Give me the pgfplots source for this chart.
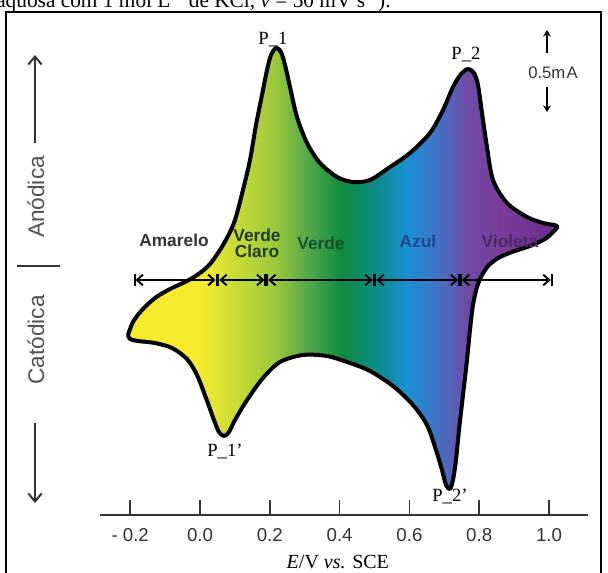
\documentclass[border=0pt]{standalone}
\usepackage{pgfplots}
\pgfplotsset{compat=1.18}
\usepackage{fontspec}
\setmainfont{Liberation Serif}
\setsansfont{Liberation Sans}
\usetikzlibrary{arrows.meta}

\definecolor{s0}{HTML}{F7EC2C}
\definecolor{s1}{HTML}{D6E033}
\definecolor{s2}{HTML}{9CC83C}
\definecolor{s3}{HTML}{4FA84A}
\definecolor{s4}{HTML}{0E8C3E}
\definecolor{s5}{HTML}{0C8C8A}
\definecolor{s6}{HTML}{1A90D5}
\definecolor{s7}{HTML}{4A6CC0}
\definecolor{s8}{HTML}{6E4CA8}
\definecolor{s9}{HTML}{7A3C98}
\definecolor{s10}{HTML}{6A2C8E}
\definecolor{ink}{HTML}{333333}

\pgfdeclarehorizontalshading{spectrum}{100bp}{color(0bp)=(s0); color(33bp)=(s0);
  color(36.3bp)=(s1); color(42.1bp)=(s2); color(46bp)=(s3); color(49.9bp)=(s4);
  color(53.8bp)=(s5); color(57.6bp)=(s6); color(61.6bp)=(s7); color(64.3bp)=(s8);
  color(68.4bp)=(s9); color(75bp)=(s10); color(100bp)=(s10)}

\tikzset{seg/.style={line width=1.4pt, black, >={Straight Barb[length=4.5pt,width=8pt]}, |<->|}}

\begin{document}
\begin{tikzpicture}
\useasboundingbox (0,0) rectangle (456pt,-429.75pt);
\clip (0,0) rectangle (456pt,-429.75pt);

\begin{axis}[
  at={(75pt,-386.25pt)}, anchor=south west,
  scale only axis, width=366pt, height=371.25pt,
  xmin=-0.2865, xmax=1.1117, ymin=-1.46875, ymax=1.625,
  clip=false,
  axis x line=bottom, axis y line=none,
  axis line style={-, line width=1.3pt, ink},
  xtick={-0.2,0,0.2,0.4,0.6,0.8,1.0},
  xticklabels={- 0.2, 0.0, 0.2, 0.4, 0.6, 0.8, 1.0},
  xtick align=inside,
  major tick length=11pt,
  major tick style={line width=1.3pt, ink},
  xticklabel style={font=\fontsize{14}{16}\sffamily, text=ink, anchor=base, yshift=-20pt},
  xlabel={\textit{E}/V \textit{vs.} SCE},
  xlabel style={font=\fontsize{15}{17}\selectfont, at={(axis cs:0.395,-1.46875)}, anchor=base, yshift=-40.5pt},
]
% voltammogram outline (E in V, I in mA)
\addplot[smooth, tension=0.5, line width=3pt, draw=black, line join=round,
         shade, shading=spectrum] coordinates {
(-0.2063,-0.3438) (-0.1920,-0.2625) (-0.1662,-0.1875) (-0.1289,-0.1125)
(-0.0860,-0.0563) (-0.0372,-0.0063) (0.0,0.0438) (0.0287,0.1)
(0.0573,0.1875) (0.0802,0.275) (0.1003,0.375) (0.1232,0.5625)
(0.1433,0.75) (0.1605,0.9688) (0.1777,1.1563) (0.1920,1.3125)
(0.2034,1.4063) (0.2178,1.45) (0.2321,1.425) (0.2436,1.3438)
(0.2579,1.2063) (0.2779,1.0188) (0.3066,0.8563) (0.3438,0.7313)
(0.3926,0.6438) (0.4384,0.6125) (0.4871,0.625) (0.5444,0.7063)
(0.6017,0.7938) (0.6590,0.9188) (0.6963,1.0625) (0.7249,1.2063)
(0.7479,1.2875) (0.7679,1.3188) (0.7851,1.2938) (0.7966,1.2188)
(0.8080,1.0438) (0.8223,0.8313) (0.8395,0.625) (0.8797,0.4813)
(0.9370,0.3938) (0.9828,0.3563) (1.0229,0.3375) (1.0115,0.3)
(0.9885,0.2563) (0.9456,0.2125) (0.9026,0.1813) (0.8596,0.1438)
(0.8281,0.0938) (0.8080,0.0313) (0.7937,-0.0438) (0.7822,-0.1563)
(0.7736,-0.3125) (0.7650,-0.5) (0.7536,-0.7188) (0.7421,-0.9375)
(0.7335,-1.125) (0.7249,-1.25) (0.7163,-1.3063) (0.7049,-1.2813)
(0.6934,-1.1875) (0.6762,-1.0625) (0.6504,-0.9063) (0.6103,-0.7813)
(0.5530,-0.6625) (0.4871,-0.5688) (0.4298,-0.5188) (0.3639,-0.475)
(0.2951,-0.4688) (0.2292,-0.5125) (0.1805,-0.6125) (0.1347,-0.75)
(0.1003,-0.875) (0.0831,-0.95) (0.0688,-0.975) (0.0544,-0.95)
(0.0401,-0.875) (0.0172,-0.7375) (-0.0086,-0.5938) (-0.0372,-0.4938)
(-0.0802,-0.425) (-0.1289,-0.3938) (-0.1777,-0.3813) (-0.2006,-0.3688)
(-0.2063,-0.3438)};

% colour ranges
\addplot[seg] coordinates {(-0.19,0) (0.05,0)};
\addplot[seg] coordinates {(0.05,0) (0.19,0)};
\addplot[seg] coordinates {(0.19,0) (0.50,0)};
\addplot[seg] coordinates {(0.50,0) (0.745,0)};
\addplot[seg] coordinates {(0.745,0) (1.01,0)};
\end{axis}

\begin{scope}[x=0.75pt, y=-0.75pt]
% caption fragment cut by the page edge
\node[anchor=base west, inner sep=0pt, font=\fontsize{16}{18}\selectfont] at (-4,7.5)
  {aquosa com 1 mol L\textsuperscript{-1} de KCl, \textit{v} = 50 mV s\textsuperscript{-1}).};
\draw[line width=2.2pt] (6,12) rectangle (601,600);

% anodic / cathodic
\draw[line width=1.5pt, ink, -{Straight Barb[length=6pt,width=10pt]}] (35,143) -- (35,55);
\draw[line width=1.5pt, ink, -{Straight Barb[length=6pt,width=10pt]}] (35,423) -- (35,503);
\draw[line width=2pt, ink] (17,266) -- (60,266);
\node[rotate=90, font=\fontsize{17}{19}\sffamily, text=ink!85!white] at (36,197) {Anódica};
\node[rotate=90, font=\fontsize{17}{19}\sffamily, text=ink!85!white] at (36,340) {Catódica};

% scale
\draw[line width=1.2pt, -{Stealth[length=5pt,width=6pt]}] (547,53) -- (547,30);
\draw[line width=1.2pt, -{Stealth[length=5pt,width=6pt]}] (547,87) -- (547,112);
\node[font=\fontsize{12.5}{14}\sffamily, text=ink] at (553,73) {0.5m\kern1pt A};

% peak labels
\node[font=\fontsize{14}{16}\selectfont] at (273,40) {P\_1};
\node[font=\fontsize{14}{16}\selectfont] at (466,55) {P\_2};
\node[font=\fontsize{14}{16}\selectfont] at (225,451) {P\_1'};
\node[font=\fontsize{14}{16}\selectfont] at (450,496) {P\_2'};

% colour names
\node[font=\fontsize{13}{15}\sffamily\bfseries, text=ink] at (174,240) {Amarelo};
\node[font=\fontsize{13}{15}\sffamily\bfseries, text={rgb,255:red,30;green,60;blue,30}, align=center, inner sep=0pt] at (257,243) {Verde\\[-3pt]Claro};
\node[font=\fontsize{13}{15}\sffamily\bfseries, text={rgb,255:red,20;green,80;blue,45}] at (321,243) {Verde};
\node[font=\fontsize{13}{15}\sffamily\bfseries, text={rgb,255:red,30;green,70;blue,140}] at (418,241) {Azul};
\node[font=\fontsize{13}{15}\sffamily\bfseries, text={rgb,255:red,75;green,40;blue,100}] at (510,241) {Violeta};
\end{scope}
\end{tikzpicture}
\end{document}
